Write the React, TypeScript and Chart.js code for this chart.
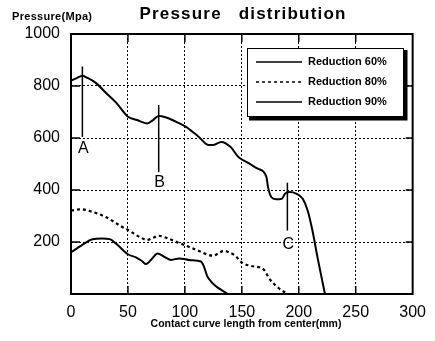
import React, { useEffect, useRef } from 'react';
import { Chart, registerables } from 'chart.js';

Chart.register(...registerables);

const chartTitle = 'Pressure distribution';
const yAxisTitle = 'Pressure(Mpa)';
const xAxisTitle = 'Contact curve length from center(mm)';

const xTicks = [0, 50, 100, 150, 200, 250, 300];
const yTicks = [0, 200, 400, 600, 800, 1000];

const seriesLabels = ['Reduction 60%', 'Reduction 80%', 'Reduction 90%'];

const r60X = [0, 5, 10, 15, 22, 31, 40, 50, 58, 67, 72, 77, 83, 92, 101, 112, 121, 125, 132, 140, 147, 154, 164, 171.6, 173, 176, 180, 185, 188, 192, 197.7, 203.5, 207.8, 212, 216.5, 223];
const r60Y = [821, 830, 839, 830, 811, 772, 734, 682, 669, 656, 669, 685, 680, 663, 643, 605, 573, 573, 585, 566, 527, 508, 482, 450, 411, 372, 364, 366, 386, 392, 386, 366, 321, 244, 140, 0];

const r80X = [0, 9, 18, 31, 43, 51, 60, 67, 72, 77, 86, 95, 101, 112, 125, 129, 134, 139, 144, 150, 158, 169, 174.5, 182, 190];
const r80Y = [321, 326, 317, 295, 263, 244, 220, 208, 216, 224, 212, 196, 186, 166, 147, 155, 166, 160, 148, 121, 108, 95, 57, 24, 0];

const r90X = [0, 9, 19, 27, 34, 40, 50, 57, 62, 66, 71, 76, 82, 88, 95, 105, 114, 116.5, 119.5, 123, 127, 132.5, 138];
const r90Y = [160, 186, 211, 213, 211, 192, 153, 141, 128, 115, 135, 156, 143, 131, 137, 130, 125, 108, 70, 48, 31, 14, 0];

const annotationLabels = ['A', 'B', 'C'];
const annotationX = [10, 77, 190];
const annotationTop = [875, 727, 428];
const annotationBottom = [604, 469, 244];
const annotationLabelY = [560, 427, 190];

const FONT = '"Liberation Sans", Arial, Helvetica, sans-serif';

const toPoints = (xs: number[], ys: number[]) => xs.map((x, i) => ({ x, y: ys[i] }));

const decorPlugin = {
  id: 'decor',
  afterDraw(chart: any) {
    const { ctx, chartArea: a, scales } = chart;
    const x = scales.x;
    const y = scales.y;
    ctx.save();
    const line = (x1: number, y1: number, x2: number, y2: number) => {
      ctx.beginPath();
      ctx.moveTo(x1, y1);
      ctx.lineTo(x2, y2);
      ctx.stroke();
    };
    ctx.strokeStyle = '#000';
    ctx.setLineDash([]);
    // frame
    ctx.lineWidth = 2;
    ctx.strokeRect(a.left, a.top, a.right - a.left, a.bottom - a.top);
    // inward ticks
    ctx.lineWidth = 1.5;
    const xMin = xTicks[0];
    const xMax = xTicks[xTicks.length - 1];
    const yMin = yTicks[0];
    const yMax = yTicks[yTicks.length - 1];
    xTicks.forEach((v) => {
      if (v === xMin || v === xMax) return;
      const px = x.getPixelForValue(v);
      line(px, a.bottom, px, a.bottom - 8);
      line(px, a.top, px, a.top + 8);
    });
    yTicks.forEach((v) => {
      if (v === yMin || v === yMax) return;
      const py = y.getPixelForValue(v);
      line(a.left, py, a.left + 9, py);
      line(a.right, py, a.right - 7, py);
    });
    // annotations
    ctx.lineWidth = 1.5;
    ctx.fillStyle = '#000';
    ctx.font = `16px ${FONT}`;
    ctx.textAlign = 'center';
    ctx.textBaseline = 'middle';
    annotationLabels.forEach((lab, i) => {
      const px = x.getPixelForValue(annotationX[i]);
      line(px, y.getPixelForValue(annotationTop[i]), px, y.getPixelForValue(annotationBottom[i]));
      ctx.fillText(lab, px + 1, y.getPixelForValue(annotationLabelY[i]));
    });
    // legend
    const lg = { left: 247, top: 48, right: 404, bottom: 117 };
    const w = lg.right - lg.left;
    const h = lg.bottom - lg.top;
    ctx.fillStyle = '#000';
    ctx.fillRect(lg.left + 2, lg.top + 2, w + 1.5, h + 1.5);
    ctx.fillStyle = '#fff';
    ctx.fillRect(lg.left, lg.top, w, h);
    ctx.lineWidth = 1;
    ctx.strokeRect(lg.left + 0.5, lg.top + 0.5, w - 1, h - 1);
    ctx.font = `bold 11px ${FONT}`;
    ctx.textAlign = 'left';
    ctx.fillStyle = '#000';
    chart.data.datasets.forEach((ds: any, i: number) => {
      const cy = lg.top + 14 + i * 20;
      ctx.lineWidth = 1.5;
      ctx.setLineDash(ds.borderDash || []);
      line(256, cy, 302, cy);
      ctx.setLineDash([]);
      ctx.fillText(ds.label, 308, cy);
    });
    // titles
    ctx.textAlign = 'center';
    ctx.textBaseline = 'alphabetic';
    ctx.font = `bold 17px ${FONT}`;
    (ctx as any).letterSpacing = '1.2px';
    (ctx as any).wordSpacing = '11px';
    ctx.fillText(chartTitle, 243, 19);
    (ctx as any).letterSpacing = '0px';
    (ctx as any).wordSpacing = '0px';
    ctx.textAlign = 'left';
    ctx.font = `bold 11px ${FONT}`;
    (ctx as any).letterSpacing = '0.3px';
    ctx.fillText(yAxisTitle, 12, 19.5);
    (ctx as any).letterSpacing = '0px';
    ctx.textAlign = 'center';
    ctx.font = `bold 10.5px ${FONT}`;
    ctx.fillText(xAxisTitle, 246, 326.5);
    ctx.restore();
  },
};

export default function App() {
  const ref = useRef<HTMLCanvasElement | null>(null);
  useEffect(() => {
    if (!ref.current) return;
    const chart = new Chart(ref.current, {
      type: 'line',
      data: {
        datasets: [
          {
            label: seriesLabels[0],
            data: toPoints(r60X, r60Y),
            borderColor: '#000',
            borderWidth: 2,
            pointRadius: 0,
            cubicInterpolationMode: 'monotone',
            fill: false,
          },
          {
            label: seriesLabels[1],
            data: toPoints(r80X, r80Y),
            borderColor: '#000',
            borderWidth: 2.2,
            borderDash: [3, 3],
            pointRadius: 0,
            cubicInterpolationMode: 'monotone',
            fill: false,
          },
          {
            label: seriesLabels[2],
            data: toPoints(r90X, r90Y),
            borderColor: '#000',
            borderWidth: 2,
            pointRadius: 0,
            cubicInterpolationMode: 'monotone',
            fill: false,
          },
        ],
      },
      options: {
        responsive: false,
        animation: false,
        devicePixelRatio: 1,
        layout: { padding: { top: 34, right: 19, left: 0, bottom: 0 } },
        plugins: {
          legend: { display: false },
          title: { display: false },
          tooltip: { enabled: false },
        },
        scales: {
          x: {
            type: 'linear',
            min: xTicks[0],
            max: xTicks[xTicks.length - 1],
            afterFit: (s: any) => {
              s.height = 47;
            },
            afterBuildTicks: (s: any) => {
              s.ticks = xTicks.map((v) => ({ value: v }));
            },
            ticks: {
              color: '#000',
              font: { family: FONT, size: 16 },
              padding: 9,
              maxRotation: 0,
              autoSkip: false,
            },
            grid: { color: '#000', lineWidth: 1, drawTicks: false },
            border: { display: false, dash: [2, 2] },
          },
          y: {
            type: 'linear',
            min: yTicks[0],
            max: yTicks[yTicks.length - 1],
            afterFit: (s: any) => {
              s.width = 71;
            },
            afterBuildTicks: (s: any) => {
              s.ticks = yTicks.map((v) => ({ value: v }));
            },
            ticks: {
              color: '#000',
              font: { family: FONT, size: 16 },
              padding: 11,
              autoSkip: false,
              callback: (v: any) => (v === yTicks[0] ? '' : String(v)),
            },
            grid: { color: '#000', lineWidth: 1, drawTicks: false },
            border: { display: false, dash: [2, 2] },
          },
        },
      },
      plugins: [decorPlugin],
    } as any);
    return () => chart.destroy();
  }, []);
  return (
    <div style={{ position: 'fixed', left: 0, top: 0, width: 435, height: 341, background: '#fff' }}>
      <canvas ref={ref} width={435} height={341} style={{ display: 'block' }} />
    </div>
  );
}
